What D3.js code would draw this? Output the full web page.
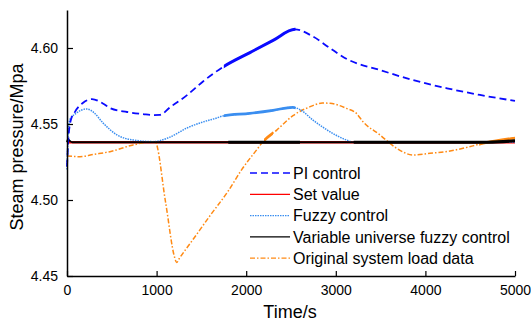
<!DOCTYPE html>
<html>
<head>
<meta charset="utf-8">
<script src="https://cdn.jsdelivr.net/npm/d3@7"></script>
<style>
body { margin: 0; background: #fff; }
text { font-family: "Liberation Sans", Arial, sans-serif; fill: #000; }
</style>
</head>
<body>
<div id="graph"></div>
<script>
// time (s) and steam pressure (MPa)
let setValue = 4.538;

let piT = [0, 15, 40, 89, 180, 279, 400, 480, 670, 850, 960, 1038, 1150, 1340, 1518, 1741, 2042, 2300, 2545, 2746, 2935, 3125, 3493, 3862, 4241, 4609, 5000];
let piP = [4.522, 4.540, 4.552, 4.558, 4.564, 4.5664, 4.5635, 4.5605, 4.5579, 4.5565, 4.5559, 4.556, 4.561, 4.569, 4.578, 4.5875, 4.597, 4.605, 4.6123, 4.6075, 4.5999, 4.5927, 4.5855, 4.5789, 4.5735, 4.5691, 4.5652];

let fuzzyT = [0, 15, 33, 100, 223, 300, 402, 558, 737, 960, 1150, 1340, 1500, 1674, 1740, 2040, 2300, 2520, 2600, 2745, 2935, 3118, 3200, 5000];
let fuzzyP = [4.520, 4.545, 4.553, 4.557, 4.5599, 4.5575, 4.5507, 4.5428, 4.5395, 4.5384, 4.5414, 4.5474, 4.551, 4.554, 4.5553, 4.557, 4.559, 4.561, 4.5595, 4.5526, 4.5449, 4.5395, 4.538, 4.538];

let vufT = [0, 10, 30, 60, 1000, 2000, 3000, 4000, 4700, 5000];
let vufP = [4.538, 4.540, 4.539, 4.538, 4.538, 4.538, 4.538, 4.538, 4.538, 4.539];

let loadT = [0, 145, 300, 480, 737, 960, 982, 1100, 1200, 1224, 1250, 1400, 1600, 1800, 1950, 2117, 2188, 2341, 2522, 2700, 2850, 2935, 3118, 3230, 3304, 3493, 3680, 3862, 4051, 4250, 4420, 4643, 5000];
let loadP = [4.529, 4.5285, 4.530, 4.5318, 4.5362, 4.5384, 4.5384, 4.4986, 4.4625, 4.4588, 4.4612, 4.4735, 4.490, 4.506, 4.520, 4.533, 4.5384, 4.546, 4.5555, 4.561, 4.5638, 4.5636, 4.5603, 4.557, 4.5515, 4.5428, 4.534, 4.5296, 4.5307, 4.532, 4.534, 4.5373, 4.5408];

// stretches where the simulated trace is noisy and drawn thick
let piNoisy = [[1750, 2550]];
let fuzzyNoisy = [[1750, 2550]];
let vufNoisy = [[1800, 2600], [3200, 5000]];
let loadNoisy = [[2200, 2300], [4600, 5000]];

let xTicks = [0, 1000, 2000, 3000, 4000, 5000];
let yTicks = [4.45, 4.50, 4.55, 4.60];

let legendNames = ["PI control", "Set value", "Fuzzy control", "Variable universe fuzzy control", "Original system load data"];

let W = 531, H = 329;
let svg = d3.select("#graph").append("svg").attr("width", W).attr("height", H);

let x = d3.scaleLinear().domain([0, 5000]).range([67, 515]);
let y = d3.scaleLinear().domain([4.45, 4.625]).range([276, 10]);

let zip = function(ts, ps) { return ts.map(function(t, i) { return [t, ps[i]]; }); };
let line = d3.line().x(function(d) { return x(d[0]); }).y(function(d) { return y(d[1]); }).curve(d3.curveMonotoneX);

let series = [
    { name: legendNames[1], data: [[0, setValue], [5000, setValue]], noisy: [], color: "#ff0000", width: 2.4, dash: null },
    { name: legendNames[4], data: zip(loadT, loadP), noisy: loadNoisy, color: "#ff8a14", width: 1.5, dash: "5,2,1.5,2" },
    { name: legendNames[2], data: zip(fuzzyT, fuzzyP), noisy: fuzzyNoisy, color: "#3a8ef0", width: 1.5, dash: "1.5,1" },
    { name: legendNames[3], data: zip(vufT, vufP), noisy: vufNoisy, color: "#000000", width: 1.8, dash: null },
    { name: legendNames[0], data: zip(piT, piP), noisy: piNoisy, color: "#0a0aff", width: 1.8, dash: "7,4" }
];

series.forEach(function(s) {
    let g = svg.append("g");
    g.append("path")
        .attr("d", line(s.data))
        .attr("fill", "none")
        .attr("stroke", s.color)
        .attr("stroke-width", s.width)
        .attr("stroke-dasharray", s.dash);
    // thicker solid overlay where the original trace jitters
    s.noisy.forEach(function(r) {
        let id = "clip-" + s.name.replace(/\W/g, "") + r[0];
        svg.append("clipPath").attr("id", id).append("rect")
            .attr("x", x(r[0])).attr("width", x(r[1]) - x(r[0]))
            .attr("y", 0).attr("height", H);
        g.append("path")
            .attr("d", line(s.data))
            .attr("fill", "none")
            .attr("stroke", s.color)
            .attr("stroke-width", s.width + 1.2)
            .attr("clip-path", "url(#" + id + ")");
    });
});

// axes, ticks pointing inwards
let xAxis = svg.append("g").attr("transform", "translate(0,276)")
    .call(d3.axisBottom(x).tickValues(xTicks).tickFormat(d3.format("d")).tickSizeInner(-5).tickSizeOuter(0).tickPadding(9));
let yAxis = svg.append("g").attr("transform", "translate(67,0)")
    .call(d3.axisLeft(y).tickValues(yTicks).tickFormat(d3.format(".2f")).tickSizeInner(-6).tickSizeOuter(0).tickPadding(9));
[xAxis, yAxis].forEach(function(a) {
    a.selectAll("path").attr("stroke", "#000").attr("stroke-width", 1.5);
    a.selectAll("line").attr("stroke", "#000").attr("stroke-width", 1.2);
    a.selectAll("text").attr("font-size", 14).style("font-family", "Liberation Sans, Arial, sans-serif");
});

svg.append("text").attr("x", 290).attr("y", 318).attr("text-anchor", "middle").attr("font-size", 18).text("Time/s");
svg.append("text").attr("transform", "translate(23,147) rotate(-90)").attr("text-anchor", "middle").attr("font-size", 18).text("Steam pressure/Mpa");

// legend
let styleByName = {};
series.forEach(function(s) { styleByName[s.name] = s; });
let lg = svg.append("g");
legendNames.forEach(function(name, i) {
    let s = styleByName[name];
    let yy = 173 + i * 21.3;
    lg.append("line").attr("x1", 250).attr("x2", 290).attr("y1", yy).attr("y2", yy)
        .attr("stroke", s.color).attr("stroke-width", 1.3).attr("stroke-dasharray", s.dash);
    lg.append("text").attr("x", 293).attr("y", yy + 5.8).attr("font-size", 16).text(name);
});
</script>
</body>
</html>
